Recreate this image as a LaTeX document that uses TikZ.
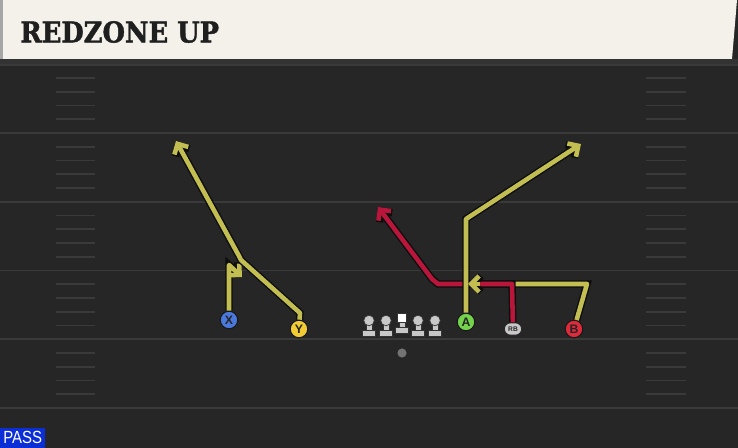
\documentclass[tikz,border=0pt]{standalone}
\usepackage{fontspec}
\setsansfont{Liberation Sans}
\newfontfamily\titlefont[UprightFont=*, BoldFont=* Bold, BoldFeatures={FakeBold=1.6}]{DejaVu Serif}
\usetikzlibrary{arrows.meta,shapes}

\definecolor{field}{HTML}{262626}
\definecolor{yardline}{HTML}{3A3A3A}
\definecolor{paper}{HTML}{F4F1EA}
\definecolor{routeyel}{HTML}{C2BE52}
\definecolor{routered}{HTML}{B8163A}
\definecolor{xblue}{HTML}{4A78DC}
\definecolor{yyel}{HTML}{F2CC34}
\definecolor{agreen}{HTML}{74D24C}
\definecolor{bred}{HTML}{DE2A3A}
\definecolor{passblue}{HTML}{0B2ED6}
\definecolor{lineman}{HTML}{C8C8C8}

\tikzset{
	route/.style={line width=2.6pt, line join=round, preaction={draw=black!95, line width=4.2pt}},
	yroute/.style={route, draw=routeyel},
	rroute/.style={route, draw=routered},
	barb/.style={-{Straight Barb[length=4.5pt,width=9pt]}},
	player/.style={circle, draw=black!90, line width=0.6pt, minimum size=10pt, inner sep=0pt, text=black!85, font=\sffamily\bfseries\fontsize{7}{7}\selectfont},
	yard/.style={draw=yardline, line width=1.1pt},
	hash/.style={draw=yardline, line width=0.9pt},
	olman/.style={fill=lineman, draw=black!80, line width=0.4pt}
}

\begin{document}
\begin{tikzpicture}[x=0.02cm, y=-0.02cm]

	\useasboundingbox (0,0) rectangle (738,448);
	% Field
	\fill[field] (0,0) rectangle (738,448);
	\fill[black!35] (0,0) rectangle (3,59);
	\fill[black!80] (0,59) rectangle (738,64);
	\foreach \y in {133,201.75,270.5,339.25,408}
		\draw[yard] (0,\y) -- (738,\y);
	\draw[yard, line width=0.8pt] (0,65) -- (738,65);
	% hash marks
	\foreach \j in {64.25,133,201.75,270.5,339.25}
		\foreach \k in {1,...,4} {
			\draw[hash] (56,\j+13.75*\k) -- (95,\j+13.75*\k);
			\draw[hash] (646,\j+13.75*\k) -- (686,\j+13.75*\k);
		}
	% Title bar
	\fill[paper] (3,0) -- (737,0) -- (732,59) -- (3,59) -- cycle;
	\node[anchor=west, inner sep=0pt, text=black!88, xscale=0.9, font=\titlefont\bfseries\fontsize{16.3}{16}\selectfont] (title) at (20,32) {REDZONE UP};

	% Line
	\foreach \lx in {369,386,418,435} {
		\filldraw[olman] (\lx-6.5,336) rectangle (\lx+6.5,330);
		\filldraw[olman] (\lx-3,330.5) rectangle (\lx+3,322);
		\filldraw[olman] (\lx,320.5) circle (3pt);
	}
	\filldraw[olman] (395.5,333) rectangle (408.5,327);
	\filldraw[olman] (399,327.5) rectangle (405,321);
	\filldraw[fill=white, draw=black!80, line width=0.4pt] (397.5,313.5) rectangle (406.5,322);
	\fill[black!55] (402,353) circle (2.6pt);

	% Players
	\node[player, fill=xblue] (x) at (229,320) {X};
	\node[player, fill=yyel] (y) at (299,329) {Y};
	\node[player, fill=agreen] (a) at (466,322) {A};
	\node[player, fill=bred] (b) at (574,329) {B};
	\node[rounded rectangle, fill=lineman, draw=black!85, line width=0.5pt, minimum width=9.8pt, minimum height=7pt, inner sep=0pt, text=black!85, font=\sffamily\bfseries\fontsize{3.8}{4}\selectfont] (rb) at (513,329) {RB};

	% Routes
	\draw[yroute, barb] (x) -- (229,265) -- (242,277);
	\draw[yroute, barb] (y) -- (300,313) -- (241,260) -- (239,256) -- (176,141);
	\draw[yroute] (b) -- (587,284) -- (468,284);
	\draw[rroute, barb] (rb) -- (512,284) -- (438,284) -- (432,279) -- (378,207);
	\draw[yroute, barb] (a) -- (466,219) -- (581,144);
	\draw[yroute, barb] (480,284) -- (468,284);

	% Play type
	\node[fill=passblue, anchor=south west, minimum width=25.5pt, minimum height=11.3pt, inner sep=0pt, text=white, font=\sffamily\fontsize{10}{10}\selectfont] (pass) at (0,448) {\scalebox{0.85}[1]{PASS}};

\end{tikzpicture}
\end{document}
